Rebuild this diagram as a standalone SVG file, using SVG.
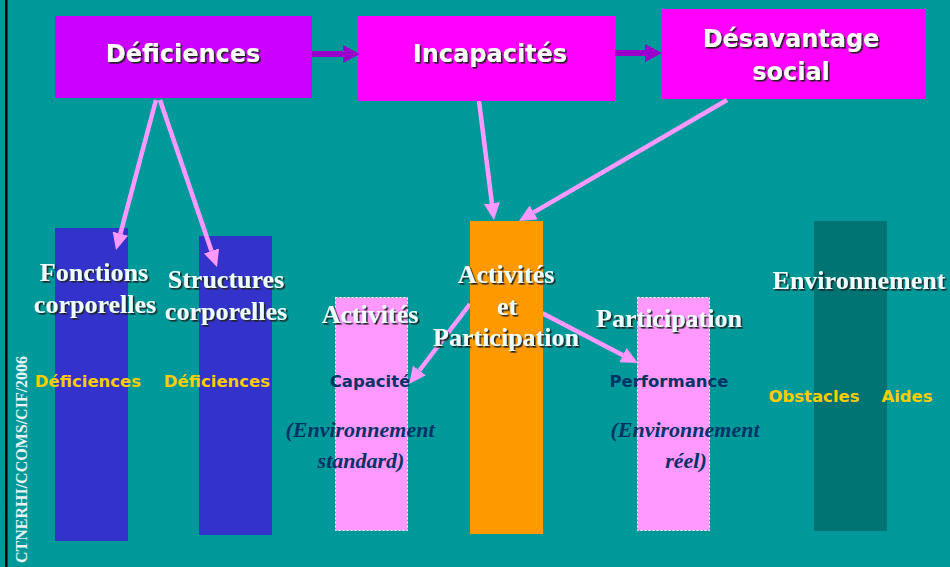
<svg xmlns="http://www.w3.org/2000/svg" width="950" height="567" viewBox="0 0 950 567">
<defs>
<filter id="sh" x="-10%" y="-10%" width="130%" height="140%">
<feDropShadow dx="1.6" dy="1.6" stdDeviation="0.3" flood-color="#222222" flood-opacity="1"/>
</filter>
<marker id="ap" markerUnits="userSpaceOnUse" markerWidth="17" markerHeight="16" refX="0" refY="8" orient="auto">
<path d="M0,0 L17,8 L0,16 z" fill="#FF99FF"/>
</marker>
<marker id="av" markerUnits="userSpaceOnUse" markerWidth="17" markerHeight="18" refX="0" refY="9" orient="auto">
<path d="M0,0 L17,9 L0,18 z" fill="#9900CC"/>
</marker>
</defs>
<style>
.box{font-family:"DejaVu Sans","Liberation Sans",sans-serif;font-weight:bold;font-size:24px;fill:#ffffff;text-anchor:middle;filter:url(#sh)}
.lbl{font-family:"Liberation Serif","Times New Roman",serif;font-weight:bold;font-size:26px;fill:#EEFFFF;text-anchor:middle;filter:url(#sh)}
.yel{font-family:"DejaVu Sans","Liberation Sans",sans-serif;font-weight:bold;font-size:16.5px;fill:#FFCC00;text-anchor:middle}
.nav{font-family:"DejaVu Sans","Liberation Sans",sans-serif;font-weight:bold;font-size:16.5px;fill:#003366;text-anchor:middle}
.ita{font-family:"Liberation Serif","Times New Roman",serif;font-weight:bold;font-style:italic;font-size:22px;fill:#003366;text-anchor:middle}
.pk{fill:#FF99FF;stroke:#ffffff;stroke-width:1;stroke-dasharray:2,2}
.cp{stroke:#FF99FF;stroke-width:4.5;fill:none;marker-end:url(#ap)}
.cv{stroke:#9900CC;stroke-width:6;fill:none;marker-end:url(#av)}
</style>
<rect x="0" y="0" width="950" height="567" fill="#009999"/>
<rect x="5" y="0" width="2.5" height="567" fill="#000000"/>
<text transform="translate(27,563) rotate(-90)" font-family="Liberation Serif, Times New Roman, serif" font-weight="bold" font-size="16" fill="#E8F4F4">CTNERHI/CCOMS/CIF/2006</text>

<g id="fonctions">
<rect x="55" y="228" width="73" height="313" fill="#3333CC"/>
<text class="lbl" x="94" y="281">Fonctions</text>
<text class="lbl" x="95" y="313">corporelles</text>
<text class="yel" x="88" y="387">Déficiences</text>
</g>
<g id="structures">
<rect x="199" y="236" width="73" height="299" fill="#3333CC"/>
<text class="lbl" x="226" y="288">Structures</text>
<text class="lbl" x="226" y="320">corporelles</text>
<text class="yel" x="217" y="387">Déficiences</text>
</g>
<g id="activites">
<rect class="pk" x="335.5" y="297.5" width="72" height="233"/>
<text class="lbl" x="370" y="323">Activités</text>
<text class="nav" x="370" y="387">Capacité</text>
<text class="ita" x="360" y="437">(Environnement</text>
<text class="ita" x="361" y="468">standard)</text>
</g>
<g id="participation">
<rect class="pk" x="637.5" y="297.5" width="72" height="233"/>
<text class="lbl" x="669" y="327">Participation</text>
<text class="nav" x="669" y="387">Performance</text>
<text class="ita" x="685" y="437">(Environnement</text>
<text class="ita" x="686" y="468">réel)</text>
</g>
<g id="environnement">
<rect x="814" y="221" width="73" height="310" fill="#007373"/>
<text class="lbl" x="859" y="289">Environnement</text>
<text class="yel" x="814" y="402">Obstacles</text>
<text class="yel" x="907" y="402">Aides</text>
</g>
<g id="deficiences">
<rect x="55" y="16" width="257" height="82" fill="#CC00FF"/>
<text class="box" x="183" y="62">Déficiences</text>
</g>
<g id="incapacites">
<rect x="358" y="16" width="257" height="85" fill="#FF00FF"/>
<text class="box" x="490" y="62">Incapacités</text>
</g>
<g id="desavantage">
<rect x="662" y="9" width="263" height="90" fill="#FF00FF"/>
<text class="box" x="791" y="47">Désavantage</text>
<text class="box" x="791" y="80">social</text>
</g>

<g id="connectors">
<line class="cv" x1="312" y1="54" x2="343" y2="54"/>
<line class="cv" x1="615" y1="53" x2="645" y2="53"/>
<line class="cp" x1="156" y1="100" x2="120.4" y2="233.6"/>
<line class="cp" x1="160" y1="100" x2="211.5" y2="250.9"/>
<line class="cp" x1="479" y1="101" x2="491.9" y2="203.1"/>
<line class="cp" x1="727" y1="100" x2="533.7" y2="212.4"/>
<line class="cp" x1="470" y1="304" x2="419.4" y2="370.5"/>
<line class="cp" x1="540" y1="312" x2="622.9" y2="355.2"/>
</g>

<g id="activites-participation">
<rect x="470" y="221" width="73" height="313" fill="#FF9900"/>
<text class="lbl" x="506" y="283">Activités</text>
<text class="lbl" x="507" y="315">et</text>
<text class="lbl" x="506" y="346">Participation</text>
</g>
</svg>
